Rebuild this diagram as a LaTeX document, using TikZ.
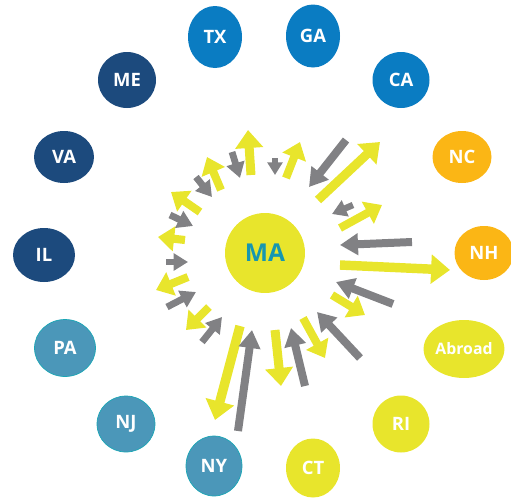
\documentclass[tikz,border=0pt]{standalone}
\usepackage{fontspec}
\setmainfont{Open Sans}
\usetikzlibrary{arrows.meta,shapes.geometric}
\definecolor{stblue}{HTML}{0A7CC2}
\definecolor{stnavy}{HTML}{1C4A7D}
\definecolor{ststeel}{HTML}{4B97B9}
\definecolor{stteal}{HTML}{1AA6B5}
\definecolor{storange}{HTML}{FBB615}
\definecolor{styellow}{HTML}{E8E52C}
\definecolor{argray}{HTML}{818184}
\definecolor{matext}{HTML}{1697B0}

\begin{document}
\begin{tikzpicture}[x=0.02cm, y=-0.02cm,
  state/.style={ellipse, inner sep=0pt, text=white, font=\fontsize{10.5}{12}\selectfont\bfseries},
  blob/.style 2 args={minimum width=#1*0.02cm, minimum height=#2*0.02cm},
  yarr/.style={color=styellow, line width=#1*0.18cm, -{Triangle[width=0.54cm,length=0.36cm,scale=#1]}},
  garr/.style={color=argray, line width=#1*0.16cm, -{Triangle[width=0.42cm,length=0.36cm,scale=#1]}}]
\useasboundingbox (0,0) rectangle (511,498);

% centre
\node[circle, fill=styellow, minimum size=1.6cm, text=matext, font=\fontsize{14}{16}\selectfont\bfseries] (MA) at (265,253) {MA};

% states
\node[state, fill=stblue, blob={54}{62}] (TX) at (215,37) {TX};
\node[state, fill=stblue, blob={54}{63}] (GA) at (313,36) {GA};
\node[state, fill=stblue, blob={57}{56}] (CA) at (401,80) {CA};
\node[state, fill=storange, blob={59}{52}] (NC) at (462,157) {NC};
\node[state, fill=storange, blob={59}{54}] (NH) at (484,253) {NH};
\node[state, fill=styellow, blob={58}{58}, font=\fontsize{9}{10}\selectfont\bfseries] (Abroad) at (464,349) {Abroad};
\node[state, fill=styellow, blob={57}{57}] (RI) at (401,424) {RI};
\node[state, fill=styellow, blob={54}{59}] (CT) at (313,468) {CT};
\node[state, fill=ststeel, draw=stteal, blob={56}{60}] (NY) at (214,466) {NY};
\node[state, fill=ststeel, draw=stteal, blob={58}{56}] (NJ) at (126,424) {NJ};
\node[state, fill=ststeel, draw=stteal, blob={61}{57}] (PA) at (65,348) {PA};
\node[state, fill=stnavy, blob={62}{54}] (IL) at (44,255) {IL};
\node[state, fill=stnavy, blob={60}{52}] (VA) at (64,157) {VA};
\node[state, fill=stnavy, blob={58}{56}] (ME) at (127,80) {ME};

% moves out of MA
\foreach \xa/\ya/\xb/\yb/\s in {251/175/248/130/1, 286/178/300/142/0.9, 221/190/207/157/0.9,
  200/212/171/192/0.9, 185/240/158/237/0.9, 188/277/156/290/0.9, 209/307/186/330/0.9,
  240/326/215/420/1.05, 275/330/281/386/1, 303/318/325/358/0.9, 332/295/365/315/0.9,
  340/265/450/270/1.05, 340/228/382/205/0.9, 318/200/380/142/1}
  \draw[yarr=\s] (\xa,\ya) -- (\xb,\yb);

% moves into MA
\foreach \xa/\ya/\xb/\yb/\s in {275/158/275/175/0.7, 232/152/240/178/0.85, 196/177/212/197/0.85,
  170/215/193/226/0.85, 166/262/188/262/0.8, 167/307/196/292/0.85, 202/342/222/317/0.85,
  238/431/252/330/1, 305/386/291/328/1, 360/358/317/312/1, 393/304/336/282/1,
  412/242/340/245/1, 353/205/332/214/0.8, 346/140/309/187/1}
  \draw[garr=\s] (\xa,\ya) -- (\xb,\yb);
\end{tikzpicture}
\end{document}
